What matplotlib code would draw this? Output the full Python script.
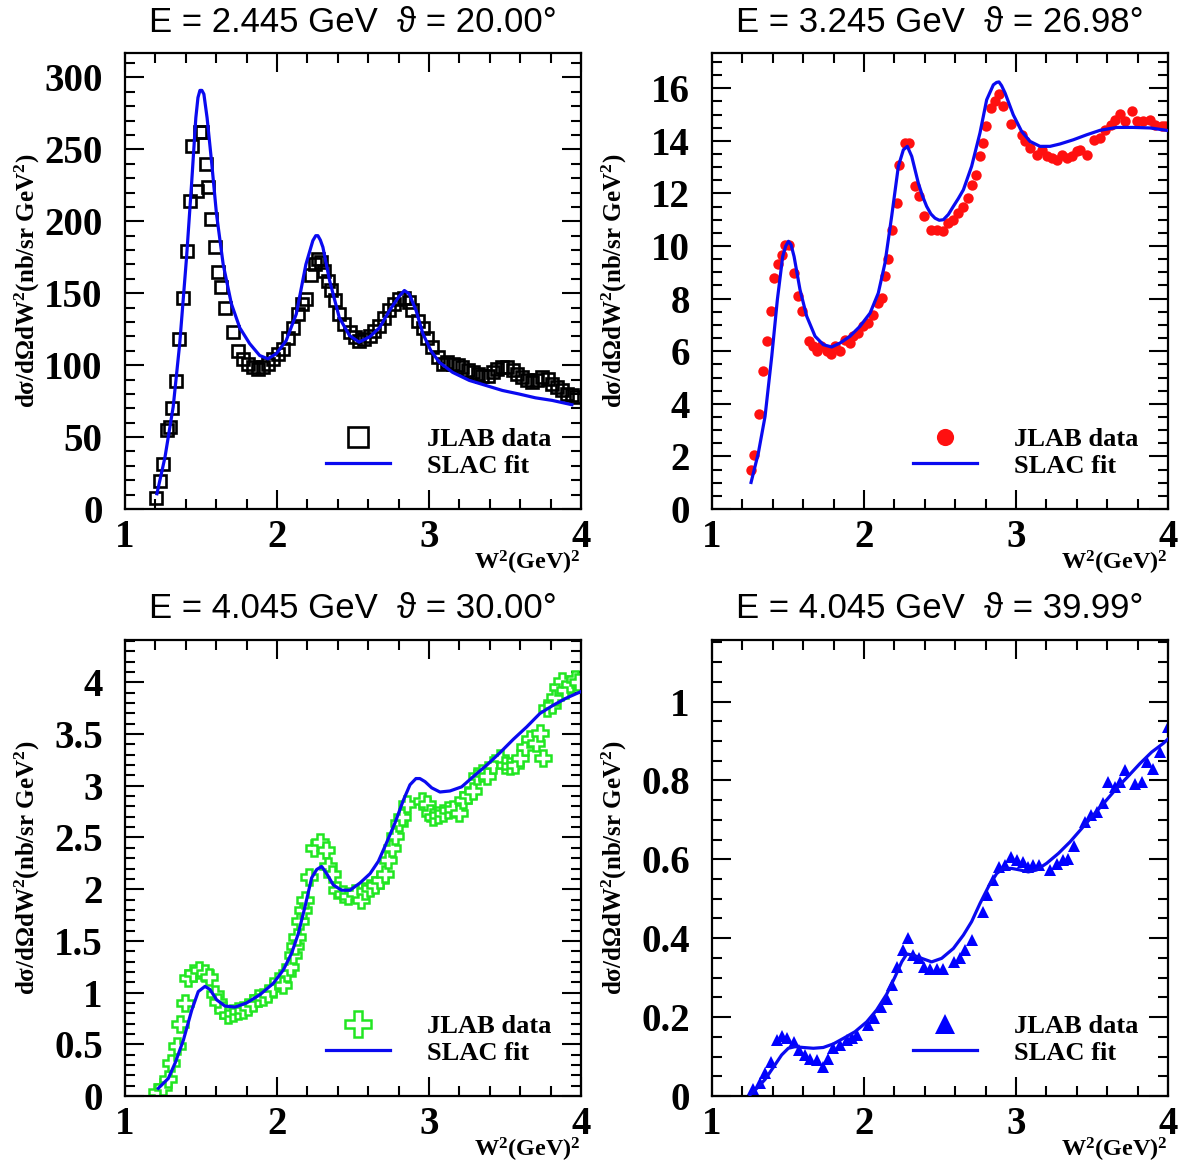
import numpy as np
import matplotlib
matplotlib.use("Agg")
import matplotlib.pyplot as plt
from matplotlib.lines import Line2D
from matplotlib.legend_handler import HandlerLine2D
from matplotlib.ticker import MultipleLocator, FormatStrFormatter

# ---- panel 1: E = 2.445 GeV, theta = 20.00 deg ----
p1_x = [1.204, 1.23, 1.247, 1.274, 1.295, 1.306, 1.335, 1.357, 1.379, 1.405,
        1.427, 1.444, 1.475, 1.492, 1.506, 1.532, 1.547, 1.569, 1.595, 1.613,
        1.63, 1.656, 1.71, 1.744, 1.777, 1.81, 1.84, 1.875, 1.908, 1.94,
        1.974, 2.007, 2.04, 2.07, 2.105, 2.138, 2.166, 2.19, 2.225, 2.247,
        2.269, 2.29, 2.31, 2.335, 2.357, 2.38, 2.41, 2.444, 2.477, 2.51,
        2.54, 2.575, 2.61, 2.64, 2.674, 2.706, 2.74, 2.77, 2.805, 2.838,
        2.87, 2.89, 2.926, 2.96, 2.99, 3.02, 3.057, 3.09, 3.12, 3.155,
        3.19, 3.22, 3.254, 3.287, 3.32, 3.35, 3.385, 3.418, 3.45, 3.483,
        3.516, 3.55, 3.58, 3.615, 3.648, 3.68, 3.713, 3.746, 3.78, 3.81,
        3.845, 3.877, 3.91, 3.943, 3.965]
p1_y = [7.6, 19.4, 31, 54.6, 57, 70, 88.7, 118, 146.8, 179.6,
        214, 252.5, 221, 261.8, 261.8, 240, 223.6, 201.6, 182, 164.6,
        154, 140, 123, 110, 104, 101, 98.6, 97.5, 98.6, 101,
        104, 108, 111, 119, 126, 135.6, 142.6, 146, 163, 170,
        174, 171.5, 165.7, 158.8, 151.9, 145, 135.6, 128.7, 123, 119.4,
        117, 118, 120.6, 124, 127.5, 133, 138, 142.6, 146, 147,
        143.7, 138, 131, 126, 119, 112.5, 105.5, 101, 102, 101,
        99.8, 98.6, 96.3, 95, 94, 92.8, 92.8, 95, 97.5, 98.6,
        98.6, 96.3, 94, 91.7, 89.4, 88.2, 89.4, 91.7, 90.5, 87,
        84.7, 82.4, 80, 79, 77.8]
p1_fit_x = [1.21, 1.263, 1.317, 1.36, 1.405, 1.438, 1.466, 1.48, 1.493, 1.506,
            1.519, 1.54, 1.569, 1.602, 1.646, 1.70, 1.755, 1.82, 1.886, 1.94,
            1.996, 2.06, 2.127, 2.19, 2.236, 2.255, 2.269, 2.285, 2.302, 2.346,
            2.41, 2.477, 2.54, 2.61, 2.674, 2.74, 2.805, 2.838, 2.87, 2.915,
            2.96, 3.013, 3.068, 3.155, 3.265, 3.374, 3.483, 3.59, 3.70, 3.81,
            3.94]
p1_fit_y = [10.6, 36, 71, 115, 175, 226, 272, 286, 291, 291,
            288.4, 272, 242, 205, 170, 142.6, 126, 115, 106.7, 104.4,
            108, 117, 135.6, 170, 186.6, 190, 190, 187, 182, 158.8,
            133, 120.6, 116, 119.7, 126, 138, 148, 151.9, 149.5, 138,
            121.8, 110, 102, 95, 89.4, 85.9, 82.4, 80, 77.3, 75.5,
            72.5]

# ---- panel 2: E = 3.245 GeV, theta = 26.98 deg ----
p2_x = [1.254, 1.279, 1.311, 1.333, 1.36, 1.386, 1.408, 1.432, 1.458, 1.48,
        1.509, 1.542, 1.566, 1.59, 1.64, 1.667, 1.693, 1.72, 1.754, 1.78,
        1.81, 1.842, 1.875, 1.908, 1.93, 1.963, 1.996, 2.028, 2.06, 2.094,
        2.12, 2.138, 2.16, 2.182, 2.215, 2.232, 2.27, 2.298, 2.335, 2.362,
        2.395, 2.439, 2.478, 2.518, 2.555, 2.588, 2.62, 2.653, 2.686, 2.708,
        2.737, 2.763, 2.785, 2.803, 2.833, 2.862, 2.888, 2.912, 2.965, 3.037,
        3.059, 3.092, 3.136, 3.169, 3.202, 3.235, 3.268, 3.30, 3.333, 3.366,
        3.40, 3.42, 3.47, 3.51, 3.553, 3.586, 3.623, 3.651, 3.684, 3.717,
        3.761, 3.794, 3.838, 3.882, 3.914, 3.958, 3.98]
p2_y = [1.47, 2.07, 3.61, 5.23, 6.40, 7.54, 8.77, 9.33, 9.67, 10.05,
        10.05, 8.97, 8.09, 7.52, 6.37, 6.21, 6.0, 6.18, 6.0, 5.9,
        6.18, 6.0, 6.41, 6.31, 6.59, 6.69, 6.95, 7.07, 7.38, 7.83,
        8.02, 8.85, 9.5, 10.62, 11.63, 13.09, 13.92, 13.92, 12.29, 11.89,
        11.13, 10.62, 10.62, 10.56, 10.87, 11.0, 11.25, 11.5, 11.82, 12.33,
        12.71, 13.41, 13.92, 14.55, 15.25, 15.5, 15.78, 15.31, 14.65, 14.23,
        13.98, 13.73, 13.47, 13.66, 13.41, 13.35, 13.28, 13.47, 13.35, 13.41,
        13.6, 13.66, 13.47, 14.04, 14.1, 14.42, 14.61, 14.8, 15.03, 14.74,
        15.15, 14.74, 14.74, 14.8, 14.61, 14.58, 14.55]
p2_fit_x = [1.257, 1.305, 1.349, 1.393, 1.43, 1.465, 1.485, 1.503, 1.52, 1.54,
            1.579, 1.623, 1.678, 1.732, 1.787, 1.842, 1.908, 1.974, 2.04, 2.094,
            2.138, 2.182, 2.226, 2.259, 2.285, 2.314, 2.357, 2.385, 2.412, 2.44,
            2.467, 2.495, 2.522, 2.555, 2.588, 2.62, 2.654, 2.708, 2.763, 2.807,
            2.851, 2.872, 2.888, 2.905, 2.928, 2.982, 3.037, 3.092, 3.158, 3.224,
            3.289, 3.377, 3.465, 3.553, 3.662, 3.772, 3.882, 3.99]
p2_fit_y = [1.01, 2.13, 3.52, 5.8, 7.96, 9.6, 10.0, 10.18, 10.05, 9.6,
            8.34, 7.33, 6.57, 6.25, 6.16, 6.31, 6.57, 6.95, 7.45, 8.21,
            9.35, 11.13, 13.03, 13.66, 13.79, 13.41, 12.4, 11.9, 11.51, 11.22,
            11.06, 10.98, 11.0, 11.2, 11.51, 11.8, 12.14, 13.03, 14.3, 15.56,
            16.13, 16.22, 16.24, 16.1, 15.82, 14.99, 14.36, 13.98, 13.79, 13.79,
            13.88, 14.04, 14.23, 14.4, 14.51, 14.51, 14.49, 14.4]

# ---- panel 3: E = 4.045 GeV, theta = 30.00 deg ----
p3_x = [1.208, 1.252, 1.285, 1.30, 1.34, 1.362, 1.395, 1.417, 1.45, 1.489,
        1.526, 1.555, 1.592, 1.614, 1.647, 1.68, 1.713, 1.746, 1.778, 1.811,
        1.844, 1.877, 1.91, 1.943, 1.976, 2.009, 2.04, 2.064, 2.086, 2.103,
        2.118, 2.13, 2.151, 2.173, 2.184, 2.213, 2.243, 2.283, 2.322, 2.338,
        2.36, 2.393, 2.436, 2.469, 2.513, 2.55, 2.579, 2.612, 2.645, 2.678,
        2.71, 2.732, 2.754, 2.776, 2.805, 2.82, 2.853, 2.952, 2.985, 3.007,
        3.029, 3.061, 3.094, 3.127, 3.16, 3.2, 3.226, 3.259, 3.292, 3.314,
        3.346, 3.379, 3.423, 3.467, 3.5, 3.533, 3.566, 3.599, 3.632, 3.664,
        3.704, 3.73, 3.752, 3.774, 3.807, 3.829, 3.851, 3.873, 3.895, 3.928,
        3.96, 3.982]
p3_y = [0.04, 0.09, 0.16, 0.32, 0.48, 0.70, 0.90, 1.14, 1.19, 1.22,
        1.19, 1.15, 0.99, 0.91, 0.83, 0.78, 0.80, 0.82, 0.83, 0.86,
        0.90, 0.95, 0.96, 0.99, 1.04, 1.11, 1.07, 1.19, 1.25, 1.36,
        1.45, 1.54, 1.69, 1.80, 1.90, 2.12, 2.40, 2.46, 2.38, 2.22,
        2.15, 1.99, 1.95, 1.93, 1.96, 1.90, 1.98, 2.01, 2.04, 2.09,
        2.15, 2.28, 2.40, 2.51, 2.64, 2.70, 2.82, 2.85, 2.82, 2.74,
        2.70, 2.72, 2.74, 2.77, 2.78, 2.74, 2.86, 2.91, 2.95, 3.09,
        3.12, 3.09, 3.20, 3.27, 3.20, 3.19, 3.20, 3.27, 3.38, 3.45,
        3.41, 3.51, 3.27, 3.75, 3.78, 3.86, 3.96, 4.01, 3.93, 3.98,
        4.03, 4.0]
p3_fit_x = [1.219, 1.285, 1.33, 1.384, 1.439, 1.482, 1.526, 1.559, 1.603, 1.658,
            1.724, 1.80, 1.888, 1.976, 2.042, 2.096, 2.14, 2.184, 2.228, 2.261,
            2.294, 2.327, 2.371, 2.425, 2.48, 2.546, 2.612, 2.667, 2.721, 2.776,
            2.831, 2.875, 2.914, 2.94, 2.974, 3.018, 3.072, 3.138, 3.215, 3.292,
            3.38, 3.467, 3.555, 3.643, 3.73, 3.818, 3.906, 3.998]
p3_fit_y = [0.074, 0.17, 0.32, 0.54, 0.83, 1.01, 1.06, 1.03, 0.93, 0.87,
            0.86, 0.90, 0.98, 1.09, 1.22, 1.38, 1.57, 1.83, 2.11, 2.19,
            2.22, 2.15, 2.04, 1.99, 1.99, 2.06, 2.15, 2.27, 2.45, 2.64,
            2.86, 3.01, 3.07, 3.07, 3.04, 2.98, 2.94, 2.95, 2.99, 3.09,
            3.20, 3.32, 3.45, 3.57, 3.70, 3.78, 3.85, 3.91]

# ---- panel 4: E = 4.045 GeV, theta = 39.99 deg ----
p4_x = [1.272, 1.316, 1.349, 1.386, 1.425, 1.458, 1.496, 1.539, 1.575, 1.612,
        1.645, 1.689, 1.728, 1.765, 1.798, 1.842, 1.886, 1.919, 1.952, 2.029,
        2.066, 2.11, 2.149, 2.182, 2.215, 2.254, 2.292, 2.325, 2.364, 2.395,
        2.434, 2.478, 2.518, 2.592, 2.632, 2.664, 2.708, 2.781, 2.811, 2.846,
        2.89, 2.928, 2.965, 3.004, 3.044, 3.081, 3.114, 3.154, 3.224, 3.268,
        3.311, 3.344, 3.382, 3.454, 3.491, 3.53, 3.57, 3.607, 3.651, 3.684,
        3.717, 3.783, 3.827, 3.86, 3.904, 3.947, 4.002]
p4_y = [0.019, 0.034, 0.059, 0.087, 0.142, 0.152, 0.146, 0.138, 0.117, 0.104,
        0.095, 0.09, 0.074, 0.095, 0.121, 0.129, 0.142, 0.148, 0.155, 0.18,
        0.197, 0.226, 0.247, 0.281, 0.328, 0.37, 0.40, 0.357, 0.349, 0.328,
        0.323, 0.323, 0.323, 0.34, 0.349, 0.37, 0.395, 0.467, 0.509, 0.547,
        0.581, 0.585, 0.605, 0.598, 0.594, 0.581, 0.585, 0.585, 0.573, 0.588,
        0.598, 0.602, 0.634, 0.695, 0.712, 0.72, 0.742, 0.796, 0.784, 0.796,
        0.826, 0.792, 0.796, 0.847, 0.83, 0.872, 0.936]
p4_fit_x = [1.25, 1.294, 1.349, 1.404, 1.458, 1.502, 1.546, 1.60, 1.667, 1.732,
            1.798, 1.864, 1.941, 2.018, 2.083, 2.149, 2.204, 2.248, 2.281, 2.325,
            2.379, 2.445, 2.511, 2.588, 2.654, 2.708, 2.763, 2.818, 2.873, 2.917,
            2.971, 3.026, 3.081, 3.136, 3.202, 3.279, 3.355, 3.432, 3.509, 3.586,
            3.662, 3.739, 3.816, 3.893, 3.969, 4.0]
p4_fit_y = [0.003, 0.019, 0.042, 0.073, 0.104, 0.121, 0.125, 0.123, 0.121, 0.123,
            0.132, 0.146, 0.163, 0.188, 0.218, 0.258, 0.302, 0.34, 0.36, 0.357,
            0.349, 0.34, 0.349, 0.374, 0.408, 0.442, 0.488, 0.53, 0.564, 0.577,
            0.577, 0.573, 0.568, 0.573, 0.59, 0.615, 0.644, 0.678, 0.712, 0.746,
            0.78, 0.811, 0.843, 0.872, 0.894, 0.905]

titles = ["E = 2.445 GeV  \u03d1 = 20.00\u00b0", "E = 3.245 GeV  \u03d1 = 26.98\u00b0",
          "E = 4.045 GeV  \u03d1 = 30.00\u00b0", "E = 4.045 GeV  \u03d1 = 39.99\u00b0"]
y_tops = [317, 17.34, 4.41, 1.156]
y_major = [50, 2, 0.5, 0.2]
y_minor = [10, 0.5, 0.1, 0.05]

FIT_BLUE = "#0a0af0"
SERIF = ["Liberation Serif", "DejaVu Serif"]
SANS = ["Liberation Sans", "DejaVu Sans"]

plt.rcParams["mathtext.fontset"] = "custom"
plt.rcParams["mathtext.rm"] = "Liberation Serif:bold"
plt.rcParams["mathtext.it"] = "Liberation Serif:bold"
plt.rcParams["mathtext.bf"] = "Liberation Serif:bold"

styles = [
    dict(marker="s", ls="none", mfc="none", mec="black", ms=8.5, mew=1.9),
    dict(marker="o", ls="none", mfc="#ff1010", mec="#ff1010", ms=7.5, mew=0),
    dict(marker="P", ls="none", mfc="white", mec="#22e622", ms=11, mew=1.8),
    dict(marker="^", ls="none", mfc="#0000ff", mec="#0000ff", ms=9, mew=0),
]


class EndMarkerHandler(HandlerLine2D):
    # ROOT-style legend key: line over full width, marker at its right end
    def get_xdata(self, legend, xdescent, ydescent, width, height, fontsize):
        xdata = np.array([-xdescent, -xdescent + width])
        return xdata, np.array([-xdescent + width])


def style_axes(ax, ytop, ymaj, ymin):
    ax.set_xlim(1, 4)
    ax.set_ylim(0, ytop)
    ax.xaxis.set_major_locator(MultipleLocator(1))
    ax.xaxis.set_minor_locator(MultipleLocator(0.2))
    ax.yaxis.set_major_locator(MultipleLocator(ymaj))
    ax.yaxis.set_minor_locator(MultipleLocator(ymin))
    ax.yaxis.set_major_formatter(FormatStrFormatter("%g"))
    ax.xaxis.set_major_formatter(FormatStrFormatter("%g"))
    ax.tick_params(which="both", direction="in", top=True, right=True, width=1.5)
    ax.tick_params(which="major", length=14)
    ax.tick_params(which="minor", length=7)
    ax.tick_params(axis="x", which="major", pad=7)
    ax.tick_params(axis="y", which="major", pad=16)
    for lab in ax.get_xticklabels() + ax.get_yticklabels():
        lab.set_fontfamily(SERIF)
        lab.set_fontweight("bold")
        lab.set_fontsize(28)
    for sp in ax.spines.values():
        sp.set_linewidth(1.6)


fig = plt.figure(figsize=(11.82, 11.66), dpi=100)
W, H = 1182.0, 1166.0
lefts = [125, 712, 125, 712]
tops = [53, 53, 640, 640]
aw, ah = 456, 456

panels = [(p1_x, p1_y, p1_fit_x, p1_fit_y), (p2_x, p2_y, p2_fit_x, p2_fit_y),
          (p3_x, p3_y, p3_fit_x, p3_fit_y), (p4_x, p4_y, p4_fit_x, p4_fit_y)]

for i, (dx, dy, fx, fy) in enumerate(panels):
    ax = fig.add_axes([lefts[i] / W, 1 - (tops[i] + ah) / H, aw / W, ah / H])
    ax.plot(fx, fy, color=FIT_BLUE, lw=2.3, zorder=3)
    ax.plot(dx, dy, zorder=2, **styles[i])
    style_axes(ax, y_tops[i], y_major[i], y_minor[i])

    ax.text(0.5, 1 + 31 / ah, titles[i], transform=ax.transAxes, ha="center",
            va="center", fontsize=25, family=SANS)
    ax.text(-0.215, 0.5, "d\u03c3/d\u03a9dW$^{2}$(nb/sr GeV$^{2}$)", transform=ax.transAxes,
            rotation=90, ha="center", va="center", fontsize=18, family=SERIF,
            fontweight="bold")
    ax.text(1.0, -54 / ah, "W$^{2}$(GeV)$^{2}$", transform=ax.transAxes, ha="right",
            va="center", fontsize=17.5, family=SERIF, fontweight="bold")

    h_data = Line2D([], [], **styles[i])
    h_fit = Line2D([], [], color=FIT_BLUE, lw=2.3)
    ax.legend([h_data, h_fit], ["JLAB data", "SLAC fit"],
              handler_map={Line2D: EndMarkerHandler()},
              loc="center left", bbox_to_anchor=(0.441, 0.124), frameon=False,
              borderpad=0, borderaxespad=0, handlelength=2.42, handletextpad=1.4,
              labelspacing=0.12, markerscale=1.65,
              prop=dict(family=SERIF, weight="bold", size=19))

fig.savefig("out.png", dpi=100)
